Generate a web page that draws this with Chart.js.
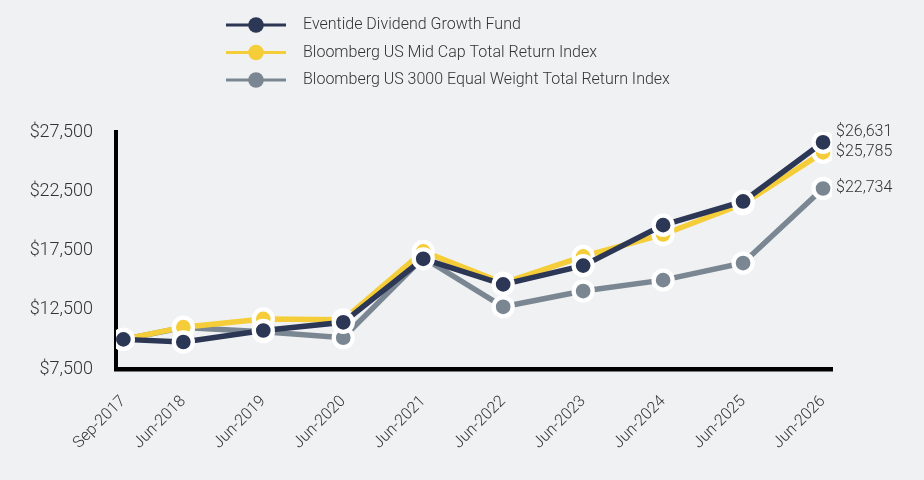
<!DOCTYPE html>
<html>
<head>
<meta charset="utf-8">
<script src="https://cdn.jsdelivr.net/npm/chart.js@4.4.1/dist/chart.umd.min.js"></script>
<style>
html,body{margin:0;padding:0;background:#f0f1f3;}
#wrap{width:924px;height:480px;position:relative;}
</style>
</head>
<body>
<div id="wrap"><canvas id="c" width="924" height="480"></canvas></div>
<script>
// ---- data ----
const dateLabels = ["Sep-2017","Jun-2018","Jun-2019","Jun-2020","Jun-2021","Jun-2022","Jun-2023","Jun-2024","Jun-2025","Jun-2026"];
// dates as decimal years (year + (month-1)/12)
const dateYears = [2017.667, 2018.417, 2019.417, 2020.417, 2021.417, 2022.417, 2023.417, 2024.417, 2025.417, 2026.417];
const seriesNames = ["Eventide Dividend Growth Fund","Bloomberg US Mid Cap Total Return Index","Bloomberg US 3000 Equal Weight Total Return Index"];
const fundValues   = [10000, 9780, 10750, 11440, 16800, 14640, 16225, 19640, 21640, 26631];
const midCapValues = [10000, 11030, 11725, 11650, 17420, 14750, 17000, 18850, 21450, 25785];
const equalWtValues= [10000, 11000, 10650, 10140, 16900, 12750, 14080, 15000, 16440, 22734];
const yTicks = [7500, 12500, 17500, 22500, 27500];

const colors = ["#2c3756", "#f5cd38", "#7a8792"];
const TXT = "#333333";
const FONT = "Roboto, 'Noto Sans', sans-serif";

function fmt(v){ return "$" + v.toLocaleString("en-US"); }
function pts(vals){ return dateYears.map((x,i)=>({x:x, y:vals[i]})); }

const legendPlugin = {
  id: "vlegend",
  afterDraw(chart){
    const ctx = chart.ctx;
    ctx.save();
    chart.data.datasets.forEach((ds,i)=>{
      const y = 25 + i*27.5;
      ctx.strokeStyle = ds.borderColor;
      ctx.lineWidth = 3;
      ctx.beginPath(); ctx.moveTo(226, y); ctx.lineTo(286, y); ctx.stroke();
      ctx.fillStyle = ds.borderColor;
      ctx.beginPath(); ctx.arc(256, y, 7.8, 0, Math.PI*2); ctx.fill();
      ctx.fillStyle = TXT;
      ctx.font = "300 16px " + FONT;
      ctx.textBaseline = "middle";
      ctx.textAlign = "left";
      ctx.fillText(ds.label, 303, y);
    });
    ctx.restore();
  }
};

const endLabelPlugin = {
  id: "endlabels",
  afterDatasetsDraw(chart){
    const ctx = chart.ctx;
    ctx.save();
    ctx.font = "300 16px " + FONT;
    ctx.fillStyle = TXT;
    ctx.textAlign = "left";
    ctx.textBaseline = "middle";
    const shifts = [-10, 0, 0];
    chart.data.datasets.forEach((ds,i)=>{
      const meta = chart.getDatasetMeta(i);
      const el = meta.data[meta.data.length-1];
      const v = ds.data[ds.data.length-1].y;
      ctx.fillText(fmt(v), el.x + 13, el.y + shifts[i]);
    });
    ctx.restore();
  }
};

function makeDs(i, vals){
  return {
    label: seriesNames[i],
    data: pts(vals),
    borderColor: colors[i],
    backgroundColor: colors[i],
    borderWidth: 5.5,
    pointRadius: 9.5,
    pointHoverRadius: 9.5,
    pointBorderWidth: 4.3,
    pointBorderColor: "#ffffff",
    pointBackgroundColor: colors[i],
    tension: 0,
    fill: false
  };
}

new Chart(document.getElementById("c"), {
  type: "line",
  data: {
    datasets: [ makeDs(0, fundValues), makeDs(1, midCapValues), makeDs(2, equalWtValues) ]
  },
  options: {
    responsive: false,
    animation: false,
    events: [],
    layout: { padding: { top: 132, right: 92, left: 0, bottom: 0 } },
    plugins: { legend: { display: false }, tooltip: { enabled: false } },
    scales: {
      x: {
        type: "linear",
        min: 2017.575,
        max: 2026.529,
        afterBuildTicks(s){ s.ticks = dateYears.map(v=>({value:v})); },
        afterFit(s){ s.height = 111; },
        grid: { display: false, drawTicks: false },
        border: { display: true, color: "#000000", width: 4.5 },
        ticks: {
          autoSkip: false,
          maxRotation: 45, minRotation: 45,
          padding: 23,
          color: TXT,
          font: { family: FONT, size: 16, weight: 300 },
          callback(v){ const i = dateYears.indexOf(v); return i >= 0 ? dateLabels[i] : ""; }
        }
      },
      y: {
        min: 7500, max: 27500,
        afterBuildTicks(s){ s.ticks = yTicks.map(v=>({value:v})); },
        afterFit(s){ s.width = 116; },
        grid: { display: false, drawTicks: false },
        border: { display: true, color: "#000000", width: 4 },
        ticks: {
          padding: 23,
          color: TXT,
          font: { family: FONT, size: 18, weight: 300 },
          callback(v){ return fmt(v); }
        }
      }
    }
  },
  plugins: [legendPlugin, endLabelPlugin]
});
</script>
</body>
</html>
